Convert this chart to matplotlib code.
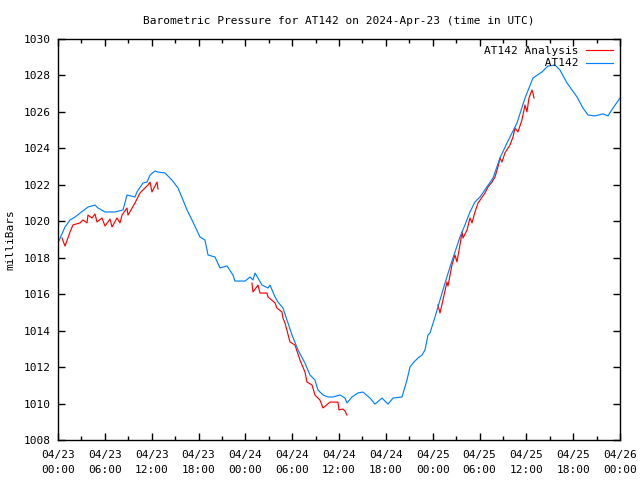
import matplotlib
matplotlib.use("Agg")
import matplotlib.pyplot as plt
from matplotlib.ticker import MultipleLocator

# hours since 2024-04-23 00:00 UTC
obs_hours = [0.0, 0.9, 1.54, 2.18, 2.82, 3.84, 4.74, 5.12, 6.02, 7.30, 8.33, 8.84, 9.86, 10.12,
             10.89, 11.40, 11.79, 12.43, 12.81, 13.71, 14.60, 15.37, 16.01, 16.53, 17.29, 18.19,
             18.83, 19.22, 20.11, 20.75, 21.65, 22.42, 22.67, 23.96, 24.60, 24.98, 25.24, 25.62,
             26.13, 26.90, 27.16, 27.80, 28.18, 28.82, 29.34, 29.98, 30.75, 31.64, 32.28, 32.92,
             33.31, 33.95, 34.59, 35.23, 36.13, 36.77, 37.02, 37.66, 38.43, 39.07, 39.97, 40.61,
             41.51, 42.28, 42.92, 44.07, 44.71, 45.09, 45.48, 46.12, 46.63, 47.02, 47.40, 47.66,
             48.30, 48.94, 49.58, 50.22, 50.86, 51.50, 52.14, 52.78, 53.42, 54.06, 55.73, 56.62,
             57.52, 58.80, 59.83, 60.85, 62.00, 62.77, 63.67, 64.31, 65.21, 66.49, 67.26, 67.90,
             68.79, 69.82, 70.46, 71.10, 72.0]
obs_mb = [1018.81, 1019.69, 1020.07, 1020.23, 1020.45, 1020.78, 1020.89, 1020.73, 1020.51, 1020.51,
          1020.62, 1021.44, 1021.33, 1021.61, 1022.10, 1022.15, 1022.54, 1022.76, 1022.70, 1022.65,
          1022.26, 1021.83, 1021.17, 1020.62, 1019.96, 1019.14, 1018.97, 1018.15, 1018.04, 1017.44,
          1017.55, 1017.05, 1016.72, 1016.72, 1016.94, 1016.78, 1017.16, 1016.89, 1016.50, 1016.34,
          1016.50, 1015.85, 1015.57, 1015.24, 1014.58, 1013.76, 1012.94, 1012.22, 1011.57, 1011.29,
          1010.74, 1010.47, 1010.36, 1010.36, 1010.47, 1010.30, 1010.03, 1010.36, 1010.58, 1010.63,
          1010.30, 1009.97, 1010.30, 1009.97, 1010.30, 1010.36, 1011.29, 1012.00, 1012.22, 1012.50,
          1012.66, 1012.94, 1013.76, 1013.87, 1014.75, 1015.68, 1016.61, 1017.49, 1018.31, 1019.14,
          1019.80, 1020.51, 1021.06, 1021.33, 1022.37, 1023.47, 1024.29, 1025.39, 1026.76, 1027.86,
          1028.19, 1028.52, 1028.57, 1028.30, 1027.59, 1026.82, 1026.21, 1025.83, 1025.78, 1025.89,
          1025.78, 1026.21, 1026.76]

ana1_hours = [0.51, 0.90, 1.54, 1.92, 2.82, 3.20, 3.72, 3.84, 4.36, 4.74, 5.00, 5.64, 6.02, 6.66,
              6.92, 7.56, 7.94, 8.20, 8.84, 8.97, 9.86, 10.50, 10.89, 11.53, 11.79, 12.04, 12.68, 12.81]
ana1_mb = [1019.08, 1018.64, 1019.41, 1019.80, 1019.91, 1020.07, 1019.91, 1020.34, 1020.18, 1020.40,
           1019.96, 1020.18, 1019.74, 1020.12, 1019.69, 1020.18, 1019.91, 1020.34, 1020.73, 1020.34,
           1021.00, 1021.55, 1021.72, 1021.99, 1022.15, 1021.61, 1022.15, 1021.77]

ana2_hours = [24.85, 24.98, 25.62, 25.88, 26.77, 26.90, 27.80, 28.05, 28.70, 28.82, 29.08, 29.72,
              30.36, 31.00, 31.64, 31.90, 32.54, 32.92, 33.56, 33.95, 34.85, 35.87, 36.00, 36.51,
              36.77, 37.02]
ana2_mb = [1016.61, 1016.12, 1016.50, 1016.06, 1016.06, 1015.85, 1015.52, 1015.24, 1015.02, 1014.69,
           1014.42, 1013.38, 1013.21, 1012.39, 1011.73, 1011.18, 1011.02, 1010.47, 1010.19, 1009.76,
           1010.08, 1010.08, 1009.65, 1009.70, 1009.59, 1009.37]

ana3_hours = [48.68, 48.94, 49.32, 49.83, 49.96, 50.47, 50.86, 51.11, 51.50, 51.76, 51.88, 52.40,
              52.78, 53.04, 53.42, 53.81, 54.70, 55.09, 55.60, 55.98, 56.37, 56.62, 56.88, 57.26,
              57.90, 58.29, 58.55, 58.93, 59.44, 59.83, 60.08, 60.34, 60.72, 60.85, 60.98]
ana3_mb = [1015.41, 1014.97, 1015.68, 1016.67, 1016.45, 1017.60, 1018.15, 1017.77, 1018.70, 1019.41,
           1019.08, 1019.52, 1020.18, 1019.91, 1020.51, 1021.00, 1021.55, 1021.88, 1022.15, 1022.43,
           1022.98, 1023.47, 1023.25, 1023.75, 1024.18, 1024.62, 1025.12, 1024.90, 1025.56, 1026.38,
           1026.00, 1026.76, 1027.20, 1027.04, 1026.76]

tick_hours = [0, 6, 12, 18, 24, 30, 36, 42, 48, 54, 60, 66, 72]
tick_labels = ["04/23\n00:00", "04/23\n06:00", "04/23\n12:00", "04/23\n18:00",
               "04/24\n00:00", "04/24\n06:00", "04/24\n12:00", "04/24\n18:00",
               "04/25\n00:00", "04/25\n06:00", "04/25\n12:00", "04/25\n18:00",
               "04/26\n00:00"]

plt.rcParams['font.family'] = ['DejaVu Sans Mono']
plt.rcParams['font.size'] = 8

fig = plt.figure(figsize=(6.4, 4.8), dpi=100)
ax = fig.add_axes([58/640, 1-440/480, (620-58)/640, (440-39)/480])

red = '#ff0000'
blue = '#0080ff'
lw = 0.85
ax.plot(ana1_hours, ana1_mb, color=red, lw=lw, label="AT142 Analysis")
ax.plot(ana2_hours, ana2_mb, color=red, lw=lw)
ax.plot(ana3_hours, ana3_mb, color=red, lw=lw)
ax.plot(obs_hours, obs_mb, color=blue, lw=lw, label="         AT142")

ax.set_xlim(0, 72)
ax.set_ylim(1008, 1030)
ax.set_xticks(tick_hours)
ax.set_xticklabels(tick_labels, linespacing=1.7)
ax.xaxis.set_minor_locator(MultipleLocator(3))
ax.set_yticks(range(1008, 1031, 2))
ax.tick_params(which='both', direction='in', top=True, right=True, labelsize=8)
ax.tick_params(axis='x', pad=7)
ax.tick_params(axis='y', pad=5)
ax.tick_params(which='major', length=5, width=1)
ax.tick_params(which='minor', length=3, width=1)
for s in ax.spines.values():
    s.set_linewidth(1)

ax.set_ylabel("milliBars", fontsize=8, labelpad=6)
ax.set_title("Barometric Pressure for AT142 on 2024-Apr-23 (time in UTC)", fontsize=8, pad=11)

leg = ax.legend(loc='upper right', frameon=False, markerfirst=False, handlelength=2.5,
                handletextpad=0.6, labelspacing=0.25, borderaxespad=0.2, fontsize=8)

fig.savefig("out.png", dpi=100)
